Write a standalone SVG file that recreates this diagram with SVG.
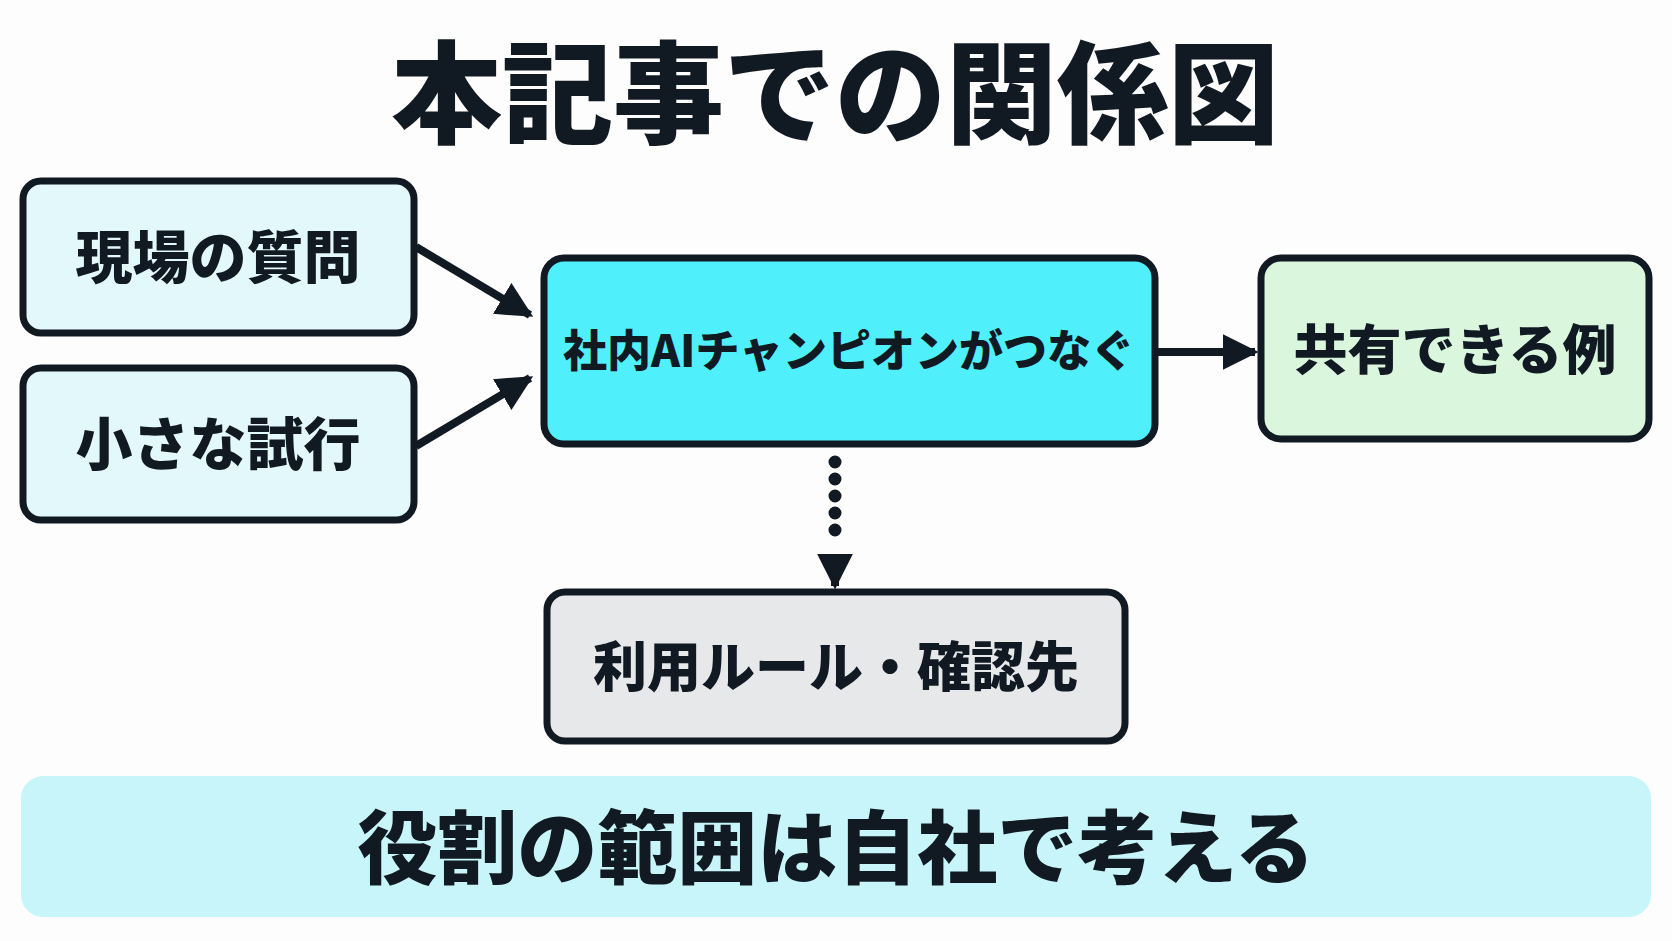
<svg xmlns="http://www.w3.org/2000/svg" width="1672" height="941" viewBox="0 0 1672 941">
<defs>
<style>
text{font-family:"Noto Sans CJK JP","Noto Sans",sans-serif;font-weight:900;fill:#111a22;text-anchor:middle}
.box{stroke:#111a22;stroke-width:7}
.lbl{font-size:54px}
.ln{stroke:#111a22;stroke-width:8;fill:none}
</style>
<marker id="ah" viewBox="0 0 10 10" refX="9" refY="5" markerWidth="4.5" markerHeight="4.5" orient="auto" markerUnits="strokeWidth"><path d="M0,0L10,5L0,10z" fill="#111a22"/></marker>
</defs>
<rect width="1672" height="941" fill="#fdfdfd"/>
<text x="835" y="135" font-size="111">本記事での関係図</text>
<g id="connectors">
<line class="ln" x1="416" y1="247" x2="530" y2="315" marker-end="url(#ah)"/>
<line class="ln" x1="416" y1="446" x2="530" y2="378" marker-end="url(#ah)"/>
<line class="ln" x1="1157" y1="352" x2="1255" y2="352" marker-end="url(#ah)"/>
<line x1="835" y1="462" x2="835" y2="545" stroke="#111a22" stroke-dasharray="0 17" stroke-linecap="round" stroke-width="13"/>
<line class="ln" x1="835" y1="555" x2="835" y2="586" marker-end="url(#ah)"/>
</g>
<g id="n1"><rect class="box" x="23" y="181" width="391" height="152" rx="18" fill="#e2f8fb"/><text x="218" y="278" font-size="57">現場の質問</text></g>
<g id="n2"><rect class="box" x="23" y="368" width="391" height="152" rx="18" fill="#e2f8fb"/><text x="218" y="465" font-size="57">小さな試行</text></g>
<g id="n3"><rect class="box" x="544" y="258" width="611" height="186" rx="20" fill="#4ff0fb"/><text x="849" y="367" font-size="44">社内AIチャンピオンがつなぐ</text></g>
<g id="n4"><rect class="box" x="1261" y="258" width="388" height="181" rx="20" fill="#daf7de"/><text class="lbl" x="1455" y="370">共有できる例</text></g>
<g id="n5"><rect class="box" x="547" y="592" width="578" height="149" rx="18" fill="#e6e8ea"/><text class="lbl" x="836" y="687">利用ルール・確認先</text></g>
<g id="banner"><rect x="21" y="776" width="1630" height="141" rx="22" fill="#c8f5fa"/><text x="836" y="877" font-size="80">役割の範囲は自社で考える</text></g>
</svg>
